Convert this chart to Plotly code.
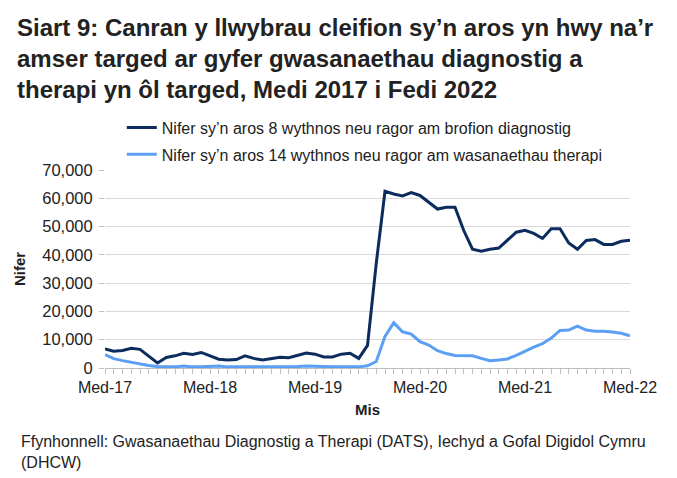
import plotly.graph_objects as go

# Medi 2017 .. Medi 2022, one value per month
months = list(range(61))
tick_pos = [0, 12, 24, 36, 48, 60]
tick_text = ["Med-17", "Med-18", "Med-19", "Med-20", "Med-21", "Med-22"]
y_ticks = [0, 10000, 20000, 30000, 40000, 50000, 60000, 70000]

diagnostig = [
    6700, 5900, 6200, 7000, 6600, 4300, 1800, 3700, 4300, 5200, 4800, 5500,
    4400, 3100, 2800, 3000, 4300, 3400, 2800, 3400, 3800, 3600, 4500, 5300,
    4900, 3900, 3900, 4900, 5200, 3400, 8000, 37000, 62500, 61500, 60800, 62000,
    61000, 58500, 56200, 56800, 56800, 48600, 42000, 41300, 42000, 42400, 45300, 48000,
    48700, 47600, 45800, 49200, 49200, 44200, 42000, 45100, 45400, 43700, 43700, 44800,
    45200,
]
therapi = [
    4700, 3300, 2600, 2000, 1400, 900, 500, 400, 400, 700, 400, 400,
    500, 700, 400, 400, 400, 400, 300, 400, 400, 400, 500, 700,
    700, 500, 400, 400, 400, 400, 800, 2300, 11200, 16000, 12800, 12000,
    9300, 8100, 6100, 5100, 4400, 4300, 4300, 3400, 2600, 2800, 3200, 4500,
    6000, 7400, 8600, 10600, 13300, 13400, 14800, 13400, 13000, 13000, 12700, 12300,
    11400,
]

names = [
    "Nifer sy\u2019n aros 8 wythnos neu ragor am brofion diagnostig",
    "Nifer sy\u2019n aros 14 wythnos neu ragor am wasanaethau therapi",
]

title = ("Siart 9: Canran y llwybrau cleifion sy\u2019n aros yn hwy na\u2019r<br>"
         "amser targed ar gyfer gwasanaethau diagnostig a<br>"
         "therapi yn \u00f4l targed, Medi 2017 i Fedi 2022")
source = ("Ffynhonnell: Gwasanaethau Diagnostig a Therapi (DATS), Iechyd a Gofal Digidol Cymru<br>"
          "(DHCW)")

font = "Liberation Sans, Arial, sans-serif"

# page body has an 8px margin, so the figure is 8px smaller than the window
W, H = 669, 470
L, T, R, B = 95, 162, 47, 110
pw, ph = W - L - R, H - T - B

fig = go.Figure()
fig.add_trace(go.Scatter(x=months, y=diagnostig, name=names[0], mode="lines",
                         line=dict(color="#0c2c5e", width=3), legendgroup="a"))
fig.add_trace(go.Scatter(x=months, y=therapi, name=names[1], mode="lines",
                         line=dict(color="#5b9ff5", width=3), legendgroup="b"))

fig.update_layout(
    width=W, height=H,
    margin=dict(l=L, r=R, t=T, b=B),
    plot_bgcolor="white", paper_bgcolor="white",
    font=dict(family=font, size=16, color="#222222"),
    title=dict(text="<b>" + title + "</b>", font=dict(size=24, color="#222222"),
               xref="container", yref="container", x=9 / W, xanchor="left",
               y=1 - 28 / H, yanchor="top"),
    legend=dict(x=0.032, xanchor="left", y=1.30, yanchor="top",
                bgcolor="rgba(0,0,0,0)", font=dict(size=16, color="#222222"),
                tracegroupgap=3, traceorder="grouped"),
    showlegend=True,
)

fig.update_xaxes(
    range=[0, 60], tickvals=tick_pos, ticktext=tick_text,
    showgrid=False, showline=True, linecolor="#bfbfbf", linewidth=1,
    ticks="outside", ticklen=5, tickcolor="#bfbfbf",
    minor=dict(dtick=1, tick0=0, ticks="outside", ticklen=5, tickcolor="#bfbfbf", showgrid=False),
    tickfont=dict(size=16, color="#222222"),
    title=dict(text="<b>Mis</b>", font=dict(size=15, color="#222222"), standoff=9),
    zeroline=False,
)
fig.update_yaxes(
    range=[0, 70000], tickvals=y_ticks, tickformat=",",
    showgrid=True, gridcolor="#d9d9d9", gridwidth=1,
    ticks="outside", ticklen=5, tickcolor="#bfbfbf", ticklabelstandoff=3,
    tickfont=dict(size=16.5, color="#222222"),
    title=dict(text="<b>Nifer</b>", font=dict(size=15, color="#222222"), standoff=12),
    zeroline=False,
)

fig.add_annotation(text=source, xref="paper", yref="paper",
                   x=-(L - 9) / pw, y=-(423 - 360) / ph, xanchor="left", yanchor="top",
                   align="left", showarrow=False, font=dict(size=16, color="#222222"))

fig.write_html("out.html")
